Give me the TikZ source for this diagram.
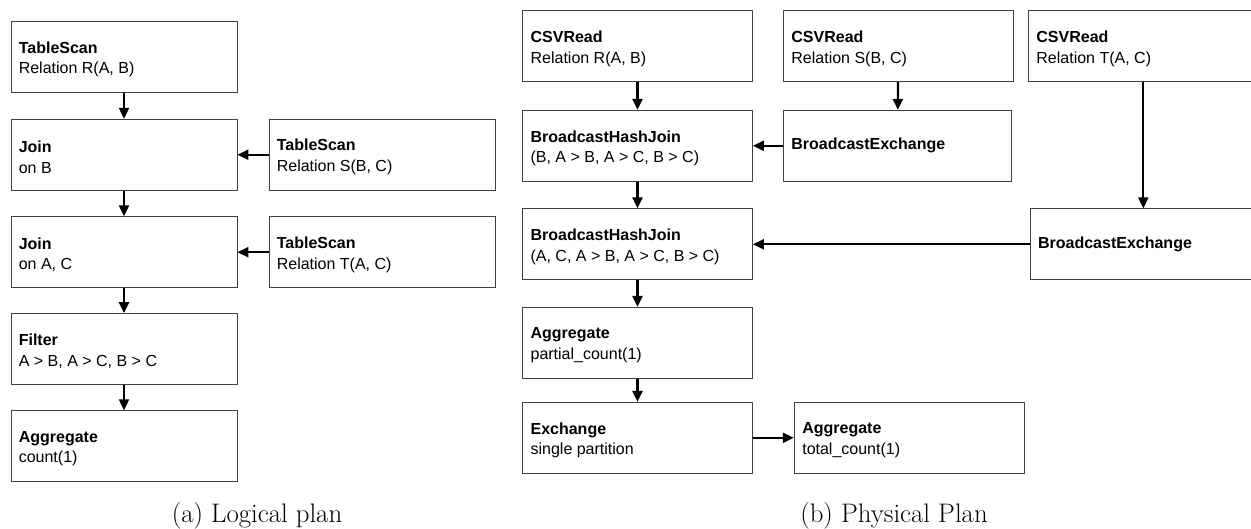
\documentclass[tikz,border=0pt]{standalone}
\usepackage{fontspec}
\newfontfamily\arial{Liberation Sans}
\usetikzlibrary{arrows.meta,calc}
\begin{document}
\begin{tikzpicture}[x=1pt,y=-1pt,
  box/.style={draw=black!75,line width=0.8pt,minimum width=226pt,minimum height=71pt,inner sep=0pt},
  pbox/.style={box,minimum width=230pt},
  txt/.style={anchor=west,align=left,inner sep=0pt,font=\arial\fontsize{16}{20.7}\selectfont},
  conn/.style={line width=2.2pt,-{Triangle[length=11pt,width=10pt]}},
  captext/.style={anchor=base,inner sep=0pt,font=\fontsize{26.8}{32}\selectfont}]
\useasboundingbox (0,0) rectangle (1251,529);
\clip (0,0) rectangle (1251,529);
\fill[white] (0,0) rectangle (1251,529);
% logical plan
\node[box] (ts1) at (124,57) {};
\node[box] (j1) at (124,154.7) {};
\node[box] (j2) at (124,252.2) {};
\node[box] (f) at (124,349) {};
\node[box] (ag) at (124,446.2) {};
\node[box] (ts2) at (382,154.7) {};
\node[box] (ts3) at (382,252.2) {};
\node[txt] (ts1t) at ($(ts1.west)+(8,2.5)$) {\textbf{TableScan}\\Relation R(A, B)};
\node[txt] (j1t) at ($(j1.west)+(8,2.5)$) {\textbf{Join}\\on B};
\node[txt] (j2t) at ($(j2.west)+(8,2.5)$) {\textbf{Join}\\on A, C};
\node[txt] (ft) at ($(f.west)+(8,2.5)$) {\textbf{Filter}\\A > B, A > C, B > C};
\node[txt] (agt) at ($(ag.west)+(8,2.5)$) {\textbf{Aggregate}\\count(1)};
\node[txt] (ts2t) at ($(ts2.west)+(8,2.5)$) {\textbf{TableScan}\\Relation S(B, C)};
\node[txt] (ts3t) at ($(ts3.west)+(8,2.5)$) {\textbf{TableScan}\\Relation T(A, C)};
\draw[conn] (ts1) -- (j1);
\draw[conn] (j1) -- (j2);
\draw[conn] (j2) -- (f);
\draw[conn] (f) -- (ag);
\draw[conn] (ts2) -- (j1);
\draw[conn] (ts3) -- (j2);
\node[captext] (capa) at (257,522) {(a) Logical plan};
% physical plan
\node[pbox] (cr) at (637.5,46.2) {};
\node[pbox] (cs) at (898.3,46.2) {};
\node[pbox] (ct) at (1143.3,46.2) {};
\node[pbox,minimum width=228.4pt] (be1) at (897.5,145.8) {};
\node[pbox] (bhj1) at (637.5,145.8) {};
\node[pbox] (bhj2) at (637.5,244.3) {};
\node[pbox] (be2) at (1145,244.3) {};
\node[pbox] (agp) at (637.5,342.8) {};
\node[pbox] (ex) at (637.5,437.8) {};
\node[pbox] (agtot) at (909.2,437.8) {};
\node[txt] (crt) at ($(cr.west)+(8.3,2.5)$) {\textbf{CSVRead}\\Relation R(A, B)};
\node[txt] (cst) at ($(cs.west)+(8.3,2.5)$) {\textbf{CSVRead}\\Relation S(B, C)};
\node[txt] (ctt) at ($(ct.west)+(8.3,2.5)$) {\textbf{CSVRead}\\Relation T(A, C)};
\node[txt] (be1t) at ($(be1.west)+(8.3,0)$) {\textbf{BroadcastExchange}};
\node[txt] (bhj1t) at ($(bhj1.west)+(8.3,2.5)$) {\textbf{BroadcastHashJoin}\\(B, A > B, A > C, B > C)};
\node[txt] (bhj2t) at ($(bhj2.west)+(8.3,2.5)$) {\textbf{BroadcastHashJoin}\\(A, C, A > B, A > C, B > C)};
\node[txt] (be2t) at ($(be2.west)+(8.3,0)$) {\textbf{BroadcastExchange}};
\node[txt] (agpt) at ($(agp.west)+(8.3,2.5)$) {\textbf{Aggregate}\\partial\_count(1)};
\node[txt] (ext) at ($(ex.west)+(8.3,2.5)$) {\textbf{Exchange}\\single partition};
\node[txt] (agtott) at ($(agtot.west)+(8.3,2.5)$) {\textbf{Aggregate}\\total\_count(1)};
\draw[conn] (cr) -- (bhj1);
\draw[conn] (cs) -- (be1);
\draw[conn] (be1) -- (bhj1);
\draw[conn] (ct.south) -- (ct.south |- be2.north);
\draw[conn] (be2) -- (bhj2);
\draw[conn] (bhj1) -- (bhj2);
\draw[conn] (bhj2) -- (agp);
\draw[conn] (agp) -- (ex);
\draw[conn] (ex) -- (agtot);
\node[captext] (capb) at (894,522) {(b) Physical Plan};
\end{tikzpicture}
\end{document}
